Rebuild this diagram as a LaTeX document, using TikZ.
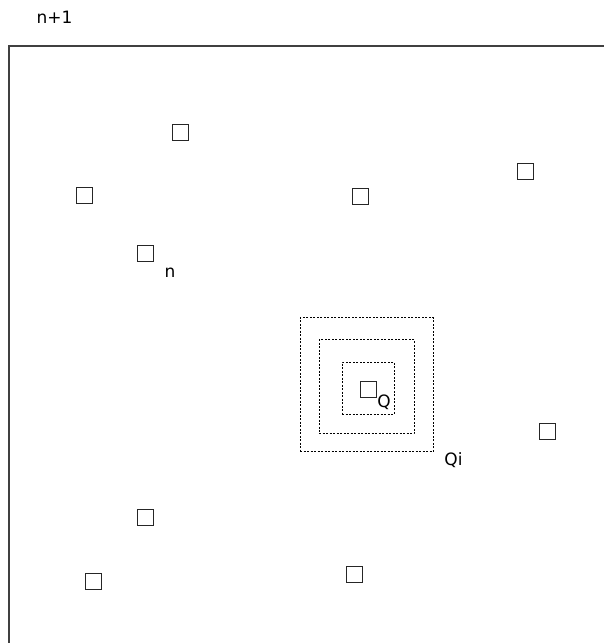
\documentclass[tikz,border=0pt]{standalone}
\usepackage{fontspec}
\setmainfont{DejaVu Sans}
\begin{document}
\begin{tikzpicture}[x=1pt,y=-1pt,
  box/.style={draw=black!85,line width=0.9pt,minimum size=16pt,inner sep=0pt},
  lbl/.style={font=\fontsize{17}{19}\selectfont,inner sep=0pt},
  dotrect/.style={draw=black,line width=0.8pt,dash pattern=on 2pt off 1.5pt}]
\useasboundingbox (0,0) rectangle (603,643);
\node[lbl] (top) at (54.5,17.5) {n+1};
\coordinate (bl) at (9,650);
\coordinate (tl) at (9,46);
\coordinate (tr) at (610,46);
\draw[line width=1.2pt,black!75] (bl) -- (tl) -- (tr);
\node[box] (s1) at (180,132) {};
\node[box] (s2) at (84,195) {};
\node[box] (s3) at (360.5,196.5) {};
\node[box] (s4) at (525,171) {};
\node[box] (s5) at (145,253.5) {};
\node[lbl] (ln) at (170,273) {n};
\node[box] (s6) at (547,431) {};
\node[box] (s7) at (145,517) {};
\node[box] (s8) at (93,581) {};
\node[box] (s9) at (354,574) {};
\node[dotrect,minimum width=133pt,minimum height=134pt,inner sep=0pt] (r1) at (366.5,384.5) {};
\node[dotrect,minimum width=95pt,minimum height=94pt,inner sep=0pt] (r2) at (366.5,386.5) {};
\node[dotrect,minimum width=52pt,minimum height=52pt,inner sep=0pt] (r3) at (368,388) {};
\node[box] (sq) at (368.5,389) {};
\node[lbl] (lq) at (384,402) {Q};
\node[lbl] (lqi) at (453.5,460) {Qi};
\end{tikzpicture}
\end{document}
